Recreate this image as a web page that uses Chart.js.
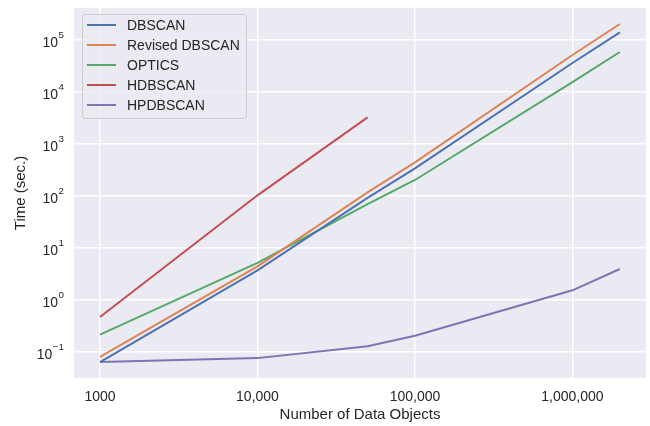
<!DOCTYPE html>
<html>
<head>
<meta charset="utf-8">
<script src="https://cdn.jsdelivr.net/npm/chart.js@4/dist/chart.umd.min.js"></script>
<style>
  html, body { margin: 0; padding: 0; background: #fff; }
  #wrap { width: 650px; height: 426px; }
</style>
</head>
<body>
<div id="wrap"><canvas id="chart" width="650" height="426"></canvas></div>
<script>
const dataSizes = [1000, 10000, 50000, 100000, 1000000, 2000000]
const seriesNames = ['DBSCAN', 'Revised DBSCAN', 'OPTICS', 'HDBSCAN', 'HPDBSCAN']
const dbscan = [0.062, 3.6, 89, 330, 35000, 136000]
const revisedDbscan = [0.078, 4.3, 114, 430, 50000, 197000]
const optics = [0.21, 5.0, 68, 197, 15000, 57000]
const hdbscan = [0.457, 100, 3160]
const hpdbscan = [0.062, 0.074, 0.125, 0.2, 1.49, 3.83]
const xTicks = [1000, 10000, 100000, 1000000]
const xTickLabels = ['1000', '10,000', '100,000', '1,000,000']
const yTicks = [0.1, 1, 10, 100, 1000, 10000, 100000]
const yTickExponents = ['\u22121', '0', '1', '2', '3', '4', '5']

const colors = ['#4C72B0', '#DD8452', '#55A868', '#C44E52', '#8172B3']
const FONT = '"Liberation Sans", Arial, sans-serif'

function points(values) {
  return values.map((v, i) => ({ x: dataSizes[i], y: v }))
}

const allSeries = [dbscan, revisedDbscan, optics, hdbscan, hpdbscan]

// axes background in seaborn grey
const plotBg = {
  id: 'plotBg',
  beforeDraw(chart) {
    const { ctx, chartArea: a } = chart
    ctx.save()
    ctx.fillStyle = '#EAEAF2'
    ctx.fillRect(a.left, a.top, a.right - a.left, a.bottom - a.top)
    ctx.restore()
  }
}

// y tick labels as 10 with superscript exponent
const yLabels = {
  id: 'yLabels',
  afterDraw(chart) {
    const { ctx } = chart
    const y = chart.scales.y
    ctx.save()
    ctx.fillStyle = '#262626'
    ctx.textBaseline = 'alphabetic'
    yTicks.forEach((v, i) => {
      const py = y.getPixelForValue(v)
      const exp = yTickExponents[i]
      ctx.font = '9.8px ' + FONT
      const ew = ctx.measureText(exp).width
      const right = 64
      ctx.textAlign = 'left'
      ctx.fillText(exp, right - ew, py - 1)
      ctx.font = '14px ' + FONT
      ctx.textAlign = 'right'
      ctx.fillText('10', right - ew - 0.5, py + 7.5)
    })
    ctx.restore()
  }
}

// legend box in upper left of the axes
const legendBox = {
  id: 'legendBox',
  afterDraw(chart) {
    const { ctx, chartArea: a } = chart
    const x0 = a.left + 8, y0 = a.top + 6, w = 164, h = 104
    ctx.save()
    ctx.beginPath()
    ctx.roundRect(x0 + 0.5, y0 + 0.5, w, h, 3)
    ctx.fillStyle = 'rgba(234,234,242,0.8)'
    ctx.fill()
    ctx.strokeStyle = '#CCCCCC'
    ctx.lineWidth = 1
    ctx.stroke()
    ctx.font = '14px ' + FONT
    ctx.textBaseline = 'middle'
    ctx.textAlign = 'left'
    chart.data.datasets.forEach((ds, i) => {
      const cy = y0 + 11 + i * 20
      ctx.beginPath()
      ctx.moveTo(x0 + 5, cy)
      ctx.lineTo(x0 + 34, cy)
      ctx.strokeStyle = ds.borderColor
      ctx.lineWidth = 2
      ctx.stroke()
      ctx.fillStyle = '#262626'
      ctx.fillText(ds.label, x0 + 45, cy + 1)
    })
    ctx.restore()
  }
}

new Chart(document.getElementById('chart'), {
  type: 'line',
  data: {
    datasets: allSeries.map((vals, i) => ({
      label: seriesNames[i],
      data: points(vals),
      borderColor: colors[i],
      backgroundColor: colors[i],
      borderWidth: 2,
      pointRadius: 0,
      tension: 0,
      fill: false
    }))
  },
  options: {
    responsive: false,
    animation: false,
    layout: { padding: { top: 8, right: 4, left: 0, bottom: 0 } },
    plugins: {
      legend: { display: false },
      tooltip: { enabled: false }
    },
    scales: {
      x: {
        type: 'logarithmic',
        min: Math.pow(10, 2.835),
        max: Math.pow(10, 6.467),
        afterBuildTicks: s => { s.ticks = xTicks.map(v => ({ value: v })) },
        afterFit: s => { s.height = 48 },
        grid: { color: '#FFFFFF', lineWidth: 1.4, drawTicks: false },
        border: { display: false },
        ticks: {
          padding: 11,
          color: '#262626',
          font: { family: FONT, size: 14 },
          maxRotation: 0,
          autoSkip: false,
          callback: (v, i) => xTickLabels[i]
        },
        title: {
          display: true,
          text: 'Number of Data Objects',
          color: '#262626',
          font: { family: FONT, size: 15 },
          padding: { top: 0, bottom: 2 }
        }
      },
      y: {
        type: 'logarithmic',
        min: Math.pow(10, -1.513),
        max: Math.pow(10, 5.602),
        afterBuildTicks: s => { s.ticks = yTicks.map(v => ({ value: v })) },
        afterFit: s => { s.width = 74 },
        grid: { color: '#FFFFFF', lineWidth: 1.4, drawTicks: false },
        border: { display: false },
        ticks: { display: false },
        title: {
          display: true,
          text: 'Time (sec.)',
          color: '#262626',
          font: { family: FONT, size: 15 },
          padding: { top: 12, bottom: 0 }
        }
      }
    }
  },
  plugins: [plotBg, yLabels, legendBox]
})
</script>
</body>
</html>
